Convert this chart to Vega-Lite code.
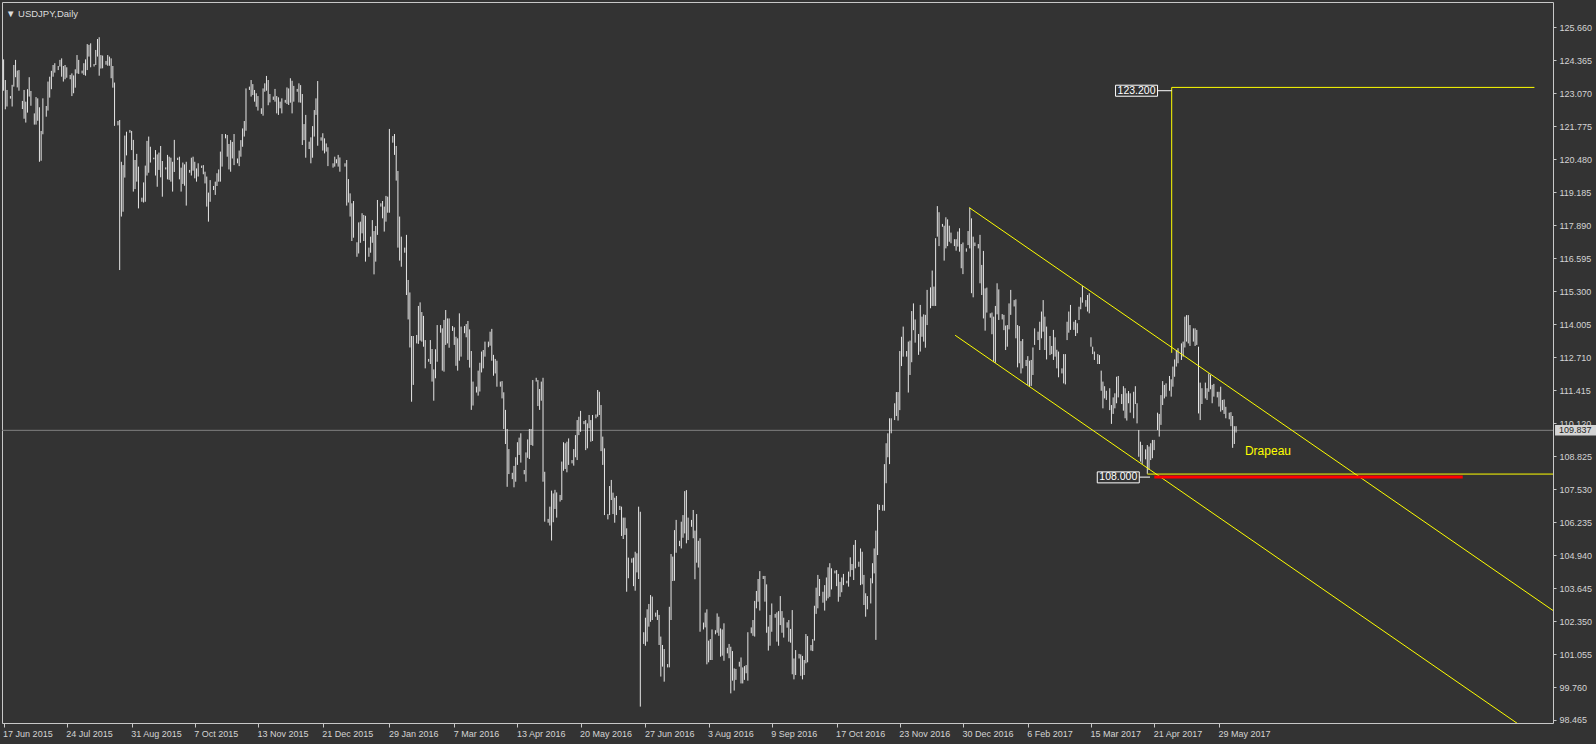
{
"width":1551,"height":721,"autosize":"none",
"padding":{"left":2,"top":2,"right":43,"bottom":21},
"background":"#333333",
"config":{"view":{"stroke":"#c8c8c8","strokeWidth":1},"font":"Liberation Sans"},
"title":{"text":"▼ USDJPY,Daily","anchor":"start","frame":"group","offset":-14,"baseline":"alphabetic","dx":4,"dy":10,"font":"Liberation Sans","fontSize":9.5,"fontWeight":"normal","color":"#dcdcdc"},
"datasets":{
"bars":[
{"d":"2015-06-17","h":124.40,"l":123.17},{"d":"2015-06-18","h":123.59,"l":122.44},{"d":"2015-06-19","h":123.20,"l":122.55},
{"d":"2015-06-21","h":122.96,"l":122.86},{"d":"2015-06-22","h":123.40,"l":122.55},{"d":"2015-06-23","h":124.18,"l":123.33},{"d":"2015-06-24","h":124.38,"l":123.70},{"d":"2015-06-25","h":123.96,"l":123.30},{"d":"2015-06-26","h":123.98,"l":123.17},
{"d":"2015-06-28","h":122.77,"l":122.45},{"d":"2015-06-29","h":123.20,"l":122.07},{"d":"2015-06-30","h":122.74,"l":121.92},{"d":"2015-07-01","h":123.23,"l":122.31},{"d":"2015-07-02","h":123.70,"l":122.94},{"d":"2015-07-03","h":123.16,"l":122.58},
{"d":"2015-07-05","h":122.28,"l":121.84},{"d":"2015-07-06","h":122.92,"l":121.84},{"d":"2015-07-07","h":122.87,"l":121.99},{"d":"2015-07-08","h":122.52,"l":120.38},{"d":"2015-07-09","h":121.59,"l":120.42},{"d":"2015-07-10","h":122.87,"l":121.46},
{"d":"2015-07-12","h":122.57,"l":122.15},{"d":"2015-07-13","h":123.53,"l":122.39},{"d":"2015-07-14","h":123.72,"l":122.90},{"d":"2015-07-15","h":123.95,"l":123.23},{"d":"2015-07-16","h":124.18,"l":123.72},{"d":"2015-07-17","h":124.25,"l":123.88},
{"d":"2015-07-19","h":124.14,"l":123.98},{"d":"2015-07-20","h":124.38,"l":124.12},{"d":"2015-07-21","h":124.44,"l":123.72},{"d":"2015-07-22","h":124.14,"l":123.53},{"d":"2015-07-23","h":124.18,"l":123.62},{"d":"2015-07-24","h":124.09,"l":123.68},
{"d":"2015-07-26","h":123.79,"l":123.62},{"d":"2015-07-27","h":123.85,"l":122.96},{"d":"2015-07-28","h":123.77,"l":123.07},{"d":"2015-07-29","h":124.01,"l":123.29},{"d":"2015-07-30","h":124.57,"l":123.85},{"d":"2015-07-31","h":124.38,"l":123.83},
{"d":"2015-08-02","h":123.96,"l":123.85},{"d":"2015-08-03","h":124.25,"l":123.79},{"d":"2015-08-04","h":124.40,"l":123.76},{"d":"2015-08-05","h":125.00,"l":123.98},{"d":"2015-08-06","h":124.97,"l":124.51},{"d":"2015-08-07","h":125.03,"l":124.09},
{"d":"2015-08-09","h":124.22,"l":124.12},{"d":"2015-08-10","h":124.77,"l":124.18},{"d":"2015-08-11","h":125.20,"l":124.51},{"d":"2015-08-12","h":125.27,"l":123.76},{"d":"2015-08-13","h":124.57,"l":124.04},{"d":"2015-08-14","h":124.55,"l":124.05},
{"d":"2015-08-16","h":124.34,"l":124.19},{"d":"2015-08-17","h":124.57,"l":124.15},{"d":"2015-08-18","h":124.51,"l":124.15},{"d":"2015-08-19","h":124.44,"l":123.66},{"d":"2015-08-20","h":124.14,"l":123.29},{"d":"2015-08-21","h":123.49,"l":121.79},
{"d":"2015-08-23","h":121.98,"l":121.81},{"d":"2015-08-24","h":122.02,"l":116.13},{"d":"2015-08-25","h":120.38,"l":118.23},{"d":"2015-08-26","h":120.25,"l":118.42},{"d":"2015-08-27","h":121.41,"l":119.76},{"d":"2015-08-28","h":121.56,"l":120.63},
{"d":"2015-08-30","h":121.63,"l":121.52},{"d":"2015-08-31","h":121.59,"l":120.84},{"d":"2015-09-01","h":121.24,"l":119.21},{"d":"2015-09-02","h":120.45,"l":119.31},{"d":"2015-09-03","h":120.69,"l":119.60},{"d":"2015-09-04","h":120.19,"l":118.55},
{"d":"2015-09-06","h":118.97,"l":118.81},{"d":"2015-09-07","h":119.57,"l":118.78},{"d":"2015-09-08","h":120.23,"l":118.81},{"d":"2015-09-09","h":121.20,"l":119.84},{"d":"2015-09-10","h":121.37,"l":119.95},{"d":"2015-09-11","h":120.97,"l":120.35},
{"d":"2015-09-13","h":120.54,"l":120.48},{"d":"2015-09-14","h":120.84,"l":119.84},{"d":"2015-09-15","h":120.67,"l":119.40},{"d":"2015-09-16","h":120.74,"l":120.06},{"d":"2015-09-17","h":121.00,"l":119.77},{"d":"2015-09-18","h":120.41,"l":119.01},
{"d":"2015-09-20","h":120.16,"l":120.08},{"d":"2015-09-21","h":120.65,"l":119.69},{"d":"2015-09-22","h":120.58,"l":119.67},{"d":"2015-09-23","h":120.54,"l":119.60},{"d":"2015-09-24","h":120.38,"l":119.21},{"d":"2015-09-25","h":121.24,"l":119.98},
{"d":"2015-09-27","h":120.54,"l":120.45},{"d":"2015-09-28","h":120.58,"l":119.69},{"d":"2015-09-29","h":120.15,"l":119.21},{"d":"2015-09-30","h":120.35,"l":119.51},{"d":"2015-10-01","h":120.28,"l":119.44},{"d":"2015-10-02","h":120.38,"l":118.66},
{"d":"2015-10-04","h":120.06,"l":119.95},{"d":"2015-10-05","h":120.54,"l":119.84},{"d":"2015-10-06","h":120.58,"l":120.03},{"d":"2015-10-07","h":120.38,"l":119.73},{"d":"2015-10-08","h":120.12,"l":119.60},{"d":"2015-10-09","h":120.32,"l":119.80},
{"d":"2015-10-11","h":120.23,"l":120.14},{"d":"2015-10-12","h":120.25,"l":119.89},{"d":"2015-10-13","h":119.99,"l":119.53},{"d":"2015-10-14","h":119.80,"l":118.62},{"d":"2015-10-15","h":119.17,"l":118.03},{"d":"2015-10-16","h":119.66,"l":118.81},
{"d":"2015-10-18","h":119.43,"l":119.27},{"d":"2015-10-19","h":119.60,"l":119.08},{"d":"2015-10-20","h":119.93,"l":119.43},{"d":"2015-10-21","h":120.08,"l":119.60},{"d":"2015-10-22","h":120.78,"l":119.60},{"d":"2015-10-23","h":121.47,"l":120.19},
{"d":"2015-10-25","h":121.47,"l":121.30},{"d":"2015-10-26","h":121.43,"l":120.58},{"d":"2015-10-27","h":121.08,"l":120.08},{"d":"2015-10-28","h":121.23,"l":119.99},{"d":"2015-10-29","h":121.16,"l":120.51},{"d":"2015-10-30","h":121.47,"l":120.25},
{"d":"2015-11-01","h":120.51,"l":120.32},{"d":"2015-11-02","h":120.82,"l":120.21},{"d":"2015-11-03","h":121.23,"l":120.58},{"d":"2015-11-04","h":121.69,"l":120.97},{"d":"2015-11-05","h":121.98,"l":121.37},{"d":"2015-11-06","h":123.26,"l":121.60},
{"d":"2015-11-08","h":123.33,"l":123.20},{"d":"2015-11-09","h":123.59,"l":122.94},{"d":"2015-11-10","h":123.43,"l":123.00},{"d":"2015-11-11","h":123.20,"l":122.74},{"d":"2015-11-12","h":123.07,"l":122.54},{"d":"2015-11-13","h":122.96,"l":122.39},
{"d":"2015-11-15","h":122.48,"l":122.26},{"d":"2015-11-16","h":123.26,"l":122.19},{"d":"2015-11-17","h":123.46,"l":123.13},{"d":"2015-11-18","h":123.75,"l":123.17},{"d":"2015-11-19","h":123.59,"l":122.60},{"d":"2015-11-20","h":123.04,"l":122.71},
{"d":"2015-11-22","h":122.94,"l":122.81},{"d":"2015-11-23","h":123.24,"l":122.74},{"d":"2015-11-24","h":122.96,"l":122.28},{"d":"2015-11-25","h":122.91,"l":122.22},{"d":"2015-11-26","h":122.74,"l":122.48},{"d":"2015-11-27","h":122.87,"l":122.28},
{"d":"2015-11-29","h":122.81,"l":122.70},{"d":"2015-11-30","h":123.30,"l":122.65},{"d":"2015-12-01","h":123.26,"l":122.61},{"d":"2015-12-02","h":123.66,"l":122.70},{"d":"2015-12-03","h":123.56,"l":122.28},{"d":"2015-12-04","h":123.36,"l":122.74},
{"d":"2015-12-06","h":123.24,"l":123.13},{"d":"2015-12-07","h":123.46,"l":122.71},{"d":"2015-12-08","h":123.39,"l":122.70},{"d":"2015-12-09","h":123.04,"l":121.04},{"d":"2015-12-10","h":121.86,"l":121.23},{"d":"2015-12-11","h":122.22,"l":120.54},
{"d":"2015-12-13","h":121.17,"l":120.88},{"d":"2015-12-14","h":121.34,"l":120.32},{"d":"2015-12-15","h":121.78,"l":120.54},{"d":"2015-12-16","h":122.41,"l":121.37},{"d":"2015-12-17","h":122.87,"l":122.22},{"d":"2015-12-18","h":123.55,"l":121.01},
{"d":"2015-12-20","h":121.34,"l":121.21},{"d":"2015-12-21","h":121.50,"l":120.82},{"d":"2015-12-22","h":121.30,"l":120.71},{"d":"2015-12-23","h":121.10,"l":120.78},{"d":"2015-12-24","h":120.95,"l":120.21},
{"d":"2015-12-27","h":120.32,"l":120.15},{"d":"2015-12-28","h":120.58,"l":120.19},{"d":"2015-12-29","h":120.48,"l":120.32},{"d":"2015-12-30","h":120.65,"l":120.19},{"d":"2015-12-31","h":120.55,"l":119.99},
{"d":"2016-01-03","h":120.32,"l":120.19},{"d":"2016-01-04","h":120.45,"l":118.66},{"d":"2016-01-05","h":119.70,"l":118.78},{"d":"2016-01-06","h":119.14,"l":118.23},{"d":"2016-01-07","h":118.75,"l":117.27},{"d":"2016-01-08","h":118.84,"l":117.40},
{"d":"2016-01-10","h":117.22,"l":116.65},{"d":"2016-01-11","h":118.00,"l":116.78},{"d":"2016-01-12","h":118.03,"l":117.20},{"d":"2016-01-13","h":118.36,"l":117.57},{"d":"2016-01-14","h":118.29,"l":117.27},{"d":"2016-01-15","h":118.26,"l":116.46},
{"d":"2016-01-17","h":117.01,"l":116.65},{"d":"2016-01-18","h":117.44,"l":116.81},{"d":"2016-01-19","h":118.09,"l":117.20},{"d":"2016-01-20","h":117.66,"l":115.96},{"d":"2016-01-21","h":117.86,"l":116.46},{"d":"2016-01-22","h":118.88,"l":117.51},
{"d":"2016-01-24","h":118.75,"l":118.62},{"d":"2016-01-25","h":118.84,"l":118.16},{"d":"2016-01-26","h":118.62,"l":117.64},{"d":"2016-01-27","h":119.04,"l":118.03},{"d":"2016-01-28","h":119.01,"l":118.38},{"d":"2016-01-29","h":121.67,"l":118.38},
{"d":"2016-01-31","h":121.39,"l":121.13},{"d":"2016-02-01","h":121.47,"l":120.65},{"d":"2016-02-02","h":121.00,"l":119.64},{"d":"2016-02-03","h":120.02,"l":117.01},{"d":"2016-02-04","h":118.23,"l":116.50},{"d":"2016-02-05","h":117.44,"l":116.26},
{"d":"2016-02-07","h":117.01,"l":116.81},{"d":"2016-02-08","h":117.51,"l":115.15},{"d":"2016-02-09","h":115.74,"l":114.19},{"d":"2016-02-10","h":115.25,"l":113.09},{"d":"2016-02-11","h":113.54,"l":110.96},{"d":"2016-02-12","h":113.54,"l":111.62},
{"d":"2016-02-14","h":113.58,"l":113.25},{"d":"2016-02-15","h":114.72,"l":113.23},{"d":"2016-02-16","h":114.86,"l":113.36},{"d":"2016-02-17","h":114.48,"l":113.32},{"d":"2016-02-18","h":114.33,"l":113.12},{"d":"2016-02-19","h":113.38,"l":112.27},
{"d":"2016-02-21","h":112.64,"l":112.53},{"d":"2016-02-22","h":113.38,"l":112.44},{"d":"2016-02-23","h":113.03,"l":111.75},{"d":"2016-02-24","h":112.23,"l":111.00},{"d":"2016-02-25","h":113.02,"l":111.88},{"d":"2016-02-26","h":113.97,"l":112.53},
{"d":"2016-02-28","h":113.97,"l":113.67},{"d":"2016-02-29","h":113.84,"l":112.18},{"d":"2016-03-01","h":114.17,"l":112.14},{"d":"2016-03-02","h":114.56,"l":113.19},{"d":"2016-03-03","h":114.23,"l":113.25},{"d":"2016-03-04","h":114.23,"l":113.08},
{"d":"2016-03-06","h":113.93,"l":113.74},{"d":"2016-03-07","h":113.88,"l":113.19},{"d":"2016-03-08","h":113.51,"l":112.37},{"d":"2016-03-09","h":113.45,"l":112.18},{"d":"2016-03-10","h":114.43,"l":112.57},{"d":"2016-03-11","h":113.91,"l":112.73},
{"d":"2016-03-13","h":113.93,"l":113.65},{"d":"2016-03-14","h":114.01,"l":113.49},{"d":"2016-03-15","h":114.13,"l":112.60},{"d":"2016-03-16","h":113.80,"l":112.30},{"d":"2016-03-17","h":112.95,"l":110.64},{"d":"2016-03-18","h":111.75,"l":110.81},
{"d":"2016-03-20","h":111.55,"l":111.32},{"d":"2016-03-21","h":112.18,"l":111.20},{"d":"2016-03-22","h":112.49,"l":111.36},{"d":"2016-03-23","h":112.93,"l":112.11},{"d":"2016-03-24","h":112.99,"l":112.27},{"d":"2016-03-25","h":113.32,"l":112.73},
{"d":"2016-03-27","h":113.32,"l":113.10},{"d":"2016-03-28","h":113.71,"l":113.16},{"d":"2016-03-29","h":113.82,"l":112.57},{"d":"2016-03-30","h":112.80,"l":111.98},{"d":"2016-03-31","h":112.64,"l":112.07},{"d":"2016-04-01","h":112.57,"l":111.55},
{"d":"2016-04-03","h":111.75,"l":111.55},{"d":"2016-04-04","h":111.77,"l":111.09},{"d":"2016-04-05","h":111.33,"l":109.89},{"d":"2016-04-06","h":110.64,"l":109.30},{"d":"2016-04-07","h":109.89,"l":107.62},{"d":"2016-04-08","h":109.10,"l":108.12},
{"d":"2016-04-10","h":108.17,"l":107.92},{"d":"2016-04-11","h":108.44,"l":107.60},{"d":"2016-04-12","h":108.78,"l":107.82},{"d":"2016-04-13","h":109.37,"l":108.48},{"d":"2016-04-14","h":109.55,"l":108.87},{"d":"2016-04-15","h":109.72,"l":108.57},
{"d":"2016-04-17","h":108.28,"l":108.11},{"d":"2016-04-18","h":108.97,"l":107.82},{"d":"2016-04-19","h":109.48,"l":108.76},{"d":"2016-04-20","h":109.89,"l":108.71},{"d":"2016-04-21","h":109.89,"l":109.26},{"d":"2016-04-22","h":111.81,"l":109.23},
{"d":"2016-04-24","h":111.90,"l":111.75},{"d":"2016-04-25","h":111.81,"l":110.79},{"d":"2016-04-26","h":111.46,"l":110.64},{"d":"2016-04-27","h":111.75,"l":111.00},{"d":"2016-04-28","h":111.90,"l":107.82},{"d":"2016-04-29","h":108.21,"l":106.25},
{"d":"2016-05-01","h":106.36,"l":106.21},{"d":"2016-05-02","h":106.84,"l":106.10},{"d":"2016-05-03","h":107.47,"l":105.51},{"d":"2016-05-04","h":107.36,"l":106.23},{"d":"2016-05-05","h":107.50,"l":106.75},{"d":"2016-05-06","h":107.40,"l":106.41},
{"d":"2016-05-08","h":107.30,"l":107.04},{"d":"2016-05-09","h":108.61,"l":107.10},{"d":"2016-05-10","h":109.37,"l":108.25},{"d":"2016-05-11","h":109.33,"l":108.32},{"d":"2016-05-12","h":109.39,"l":108.19},{"d":"2016-05-13","h":109.52,"l":108.48},
{"d":"2016-05-15","h":108.67,"l":108.54},{"d":"2016-05-16","h":109.10,"l":108.45},{"d":"2016-05-17","h":109.65,"l":108.78},{"d":"2016-05-18","h":110.24,"l":108.67},{"d":"2016-05-19","h":110.37,"l":109.65},{"d":"2016-05-20","h":110.60,"l":109.78},
{"d":"2016-05-22","h":110.20,"l":110.08},{"d":"2016-05-23","h":110.24,"l":109.06},{"d":"2016-05-24","h":110.11,"l":109.13},{"d":"2016-05-25","h":110.44,"l":109.92},{"d":"2016-05-26","h":110.24,"l":109.39},{"d":"2016-05-27","h":110.44,"l":109.42},
{"d":"2016-05-29","h":110.46,"l":110.31},{"d":"2016-05-30","h":111.42,"l":110.37},{"d":"2016-05-31","h":111.35,"l":110.44},{"d":"2016-06-01","h":110.83,"l":109.02},{"d":"2016-06-02","h":109.59,"l":108.48},{"d":"2016-06-03","h":109.13,"l":106.51},
{"d":"2016-06-05","h":106.55,"l":106.34},{"d":"2016-06-06","h":107.65,"l":106.51},{"d":"2016-06-07","h":107.89,"l":107.10},{"d":"2016-06-08","h":107.39,"l":106.55},{"d":"2016-06-09","h":107.19,"l":106.21},{"d":"2016-06-10","h":107.26,"l":106.51},
{"d":"2016-06-12","h":106.87,"l":106.71},{"d":"2016-06-13","h":106.84,"l":105.69},{"d":"2016-06-14","h":106.41,"l":105.57},{"d":"2016-06-15","h":106.41,"l":105.73},{"d":"2016-06-16","h":105.99,"l":103.50},{"d":"2016-06-17","h":104.84,"l":104.03},
{"d":"2016-06-19","h":104.81,"l":104.64},{"d":"2016-06-20","h":104.84,"l":103.72},{"d":"2016-06-21","h":105.07,"l":103.54},{"d":"2016-06-22","h":105.01,"l":104.26},{"d":"2016-06-23","h":106.84,"l":104.00},{"d":"2016-06-24","h":106.64,"l":98.99},
{"d":"2016-06-26","h":101.91,"l":101.45},{"d":"2016-06-27","h":102.48,"l":101.38},{"d":"2016-06-28","h":102.81,"l":101.54},{"d":"2016-06-29","h":103.02,"l":102.13},{"d":"2016-06-30","h":103.37,"l":102.32},{"d":"2016-07-01","h":103.31,"l":102.39},
{"d":"2016-07-03","h":102.68,"l":102.52},{"d":"2016-07-04","h":102.78,"l":102.39},{"d":"2016-07-05","h":102.59,"l":101.41},{"d":"2016-07-06","h":101.74,"l":100.17},{"d":"2016-07-07","h":101.41,"l":100.56},{"d":"2016-07-08","h":101.25,"l":99.97},
{"d":"2016-07-10","h":100.66,"l":100.53},{"d":"2016-07-11","h":102.91,"l":100.53},{"d":"2016-07-12","h":104.98,"l":102.39},{"d":"2016-07-13","h":104.88,"l":103.92},{"d":"2016-07-14","h":105.92,"l":103.93},{"d":"2016-07-15","h":106.32,"l":105.03},
{"d":"2016-07-17","h":105.50,"l":105.29},{"d":"2016-07-18","h":106.25,"l":105.20},{"d":"2016-07-19","h":106.51,"l":105.62},{"d":"2016-07-20","h":107.45,"l":105.79},{"d":"2016-07-21","h":107.49,"l":105.40},{"d":"2016-07-22","h":106.41,"l":105.53},
{"d":"2016-07-24","h":106.32,"l":106.05},{"d":"2016-07-25","h":106.71,"l":105.60},{"d":"2016-07-26","h":105.90,"l":103.99},{"d":"2016-07-27","h":106.55,"l":104.64},{"d":"2016-07-28","h":105.50,"l":104.45},{"d":"2016-07-29","h":105.60,"l":101.93},
{"d":"2016-07-31","h":102.29,"l":102.02},{"d":"2016-08-01","h":102.68,"l":102.10},{"d":"2016-08-02","h":102.81,"l":100.65},{"d":"2016-08-03","h":101.58,"l":100.73},{"d":"2016-08-04","h":101.64,"l":100.82},{"d":"2016-08-05","h":102.02,"l":100.82},
{"d":"2016-08-07","h":101.99,"l":101.83},{"d":"2016-08-08","h":102.65,"l":101.89},{"d":"2016-08-09","h":102.52,"l":101.77},{"d":"2016-08-10","h":102.06,"l":100.95},{"d":"2016-08-11","h":102.02,"l":100.99},{"d":"2016-08-12","h":102.26,"l":100.79},
{"d":"2016-08-14","h":101.30,"l":101.08},{"d":"2016-08-15","h":101.45,"l":100.89},{"d":"2016-08-16","h":101.34,"l":99.51},{"d":"2016-08-17","h":101.17,"l":100.01},{"d":"2016-08-18","h":100.49,"l":99.62},{"d":"2016-08-19","h":100.47,"l":100.04},
{"d":"2016-08-21","h":100.75,"l":100.56},{"d":"2016-08-22","h":100.92,"l":99.90},{"d":"2016-08-23","h":100.53,"l":99.90},{"d":"2016-08-24","h":100.58,"l":100.04},{"d":"2016-08-25","h":100.62,"l":100.30},{"d":"2016-08-26","h":101.91,"l":100.01},
{"d":"2016-08-28","h":102.10,"l":101.87},{"d":"2016-08-29","h":102.39,"l":101.77},{"d":"2016-08-30","h":103.14,"l":101.74},{"d":"2016-08-31","h":103.53,"l":102.85},{"d":"2016-09-01","h":104.00,"l":103.11},{"d":"2016-09-02","h":104.31,"l":102.76},
{"d":"2016-09-04","h":104.12,"l":104.00},{"d":"2016-09-05","h":104.12,"l":103.11},{"d":"2016-09-06","h":103.79,"l":101.89},{"d":"2016-09-07","h":102.13,"l":101.19},{"d":"2016-09-08","h":102.59,"l":101.38},{"d":"2016-09-09","h":103.04,"l":101.93},
{"d":"2016-09-11","h":102.63,"l":102.48},{"d":"2016-09-12","h":102.69,"l":101.54},{"d":"2016-09-13","h":102.74,"l":101.38},{"d":"2016-09-14","h":103.33,"l":102.19},{"d":"2016-09-15","h":102.74,"l":101.89},{"d":"2016-09-16","h":102.48,"l":101.70},
{"d":"2016-09-18","h":102.30,"l":102.09},{"d":"2016-09-19","h":102.39,"l":101.54},{"d":"2016-09-20","h":102.04,"l":101.50},{"d":"2016-09-21","h":102.78,"l":100.26},{"d":"2016-09-22","h":100.88,"l":100.06},{"d":"2016-09-23","h":101.21,"l":100.23},
{"d":"2016-09-25","h":101.06,"l":100.88},{"d":"2016-09-26","h":101.04,"l":100.20},{"d":"2016-09-27","h":100.98,"l":100.06},{"d":"2016-09-28","h":100.82,"l":100.23},{"d":"2016-09-29","h":101.84,"l":100.69},{"d":"2016-09-30","h":101.76,"l":100.73},
{"d":"2016-10-02","h":101.41,"l":101.19},{"d":"2016-10-03","h":101.64,"l":101.17},{"d":"2016-10-04","h":102.95,"l":101.58},{"d":"2016-10-05","h":103.66,"l":102.63},{"d":"2016-10-06","h":104.16,"l":102.85},{"d":"2016-10-07","h":104.00,"l":103.33},
{"d":"2016-10-09","h":103.50,"l":103.07},{"d":"2016-10-10","h":103.76,"l":102.76},{"d":"2016-10-11","h":104.06,"l":103.15},{"d":"2016-10-12","h":104.46,"l":103.24},{"d":"2016-10-13","h":104.62,"l":103.30},{"d":"2016-10-14","h":104.42,"l":103.59},
{"d":"2016-10-16","h":104.33,"l":104.22},{"d":"2016-10-17","h":104.35,"l":103.72},{"d":"2016-10-18","h":104.20,"l":103.11},{"d":"2016-10-19","h":103.89,"l":103.30},{"d":"2016-10-20","h":104.06,"l":103.48},{"d":"2016-10-21","h":104.20,"l":103.76},
{"d":"2016-10-23","h":103.93,"l":103.83},{"d":"2016-10-24","h":104.29,"l":103.70},{"d":"2016-10-25","h":104.85,"l":104.09},{"d":"2016-10-26","h":104.59,"l":104.35},{"d":"2016-10-27","h":105.34,"l":103.96},{"d":"2016-10-28","h":105.53,"l":104.42},
{"d":"2016-10-30","h":104.68,"l":104.48},{"d":"2016-10-31","h":105.20,"l":103.76},{"d":"2016-11-01","h":105.07,"l":103.79},{"d":"2016-11-02","h":104.16,"l":102.98},{"d":"2016-11-03","h":103.44,"l":102.52},{"d":"2016-11-04","h":103.33,"l":102.81},
{"d":"2016-11-06","h":104.03,"l":103.04},{"d":"2016-11-07","h":104.62,"l":103.83},{"d":"2016-11-08","h":105.20,"l":104.22},{"d":"2016-11-09","h":105.90,"l":101.61},{"d":"2016-11-10","h":106.94,"l":104.94},{"d":"2016-11-11","h":106.91,"l":106.71},
{"d":"2016-11-13","h":106.91,"l":106.68},{"d":"2016-11-14","h":108.51,"l":106.68},{"d":"2016-11-15","h":109.33,"l":107.76},{"d":"2016-11-16","h":109.72,"l":108.78},{"d":"2016-11-17","h":110.31,"l":108.51},{"d":"2016-11-18","h":110.31,"l":109.72},
{"d":"2016-11-20","h":110.90,"l":110.24},{"d":"2016-11-21","h":111.34,"l":110.40},{"d":"2016-11-22","h":111.34,"l":110.22},{"d":"2016-11-23","h":112.95,"l":110.63},{"d":"2016-11-24","h":113.51,"l":112.36},{"d":"2016-11-25","h":113.91,"l":112.73},
{"d":"2016-11-27","h":112.95,"l":112.73},{"d":"2016-11-28","h":113.32,"l":111.32},{"d":"2016-11-29","h":113.36,"l":112.01},{"d":"2016-11-30","h":114.52,"l":112.51},{"d":"2016-12-01","h":114.82,"l":113.77},{"d":"2016-12-02","h":114.19,"l":113.28},
{"d":"2016-12-04","h":113.62,"l":112.80},{"d":"2016-12-05","h":114.76,"l":112.93},{"d":"2016-12-06","h":114.30,"l":113.51},{"d":"2016-12-07","h":114.39,"l":113.32},{"d":"2016-12-08","h":114.37,"l":113.08},{"d":"2016-12-09","h":115.35,"l":113.97},
{"d":"2016-12-11","h":115.45,"l":114.63},{"d":"2016-12-12","h":116.11,"l":114.72},{"d":"2016-12-13","h":115.48,"l":114.72},{"d":"2016-12-14","h":117.38,"l":114.72},{"d":"2016-12-15","h":118.64,"l":117.44},{"d":"2016-12-16","h":118.40,"l":117.07},
{"d":"2016-12-18","h":117.94,"l":117.83},{"d":"2016-12-19","h":117.87,"l":116.50},{"d":"2016-12-20","h":118.20,"l":116.98},{"d":"2016-12-21","h":118.12,"l":117.07},{"d":"2016-12-22","h":117.87,"l":117.24},{"d":"2016-12-23","h":117.60,"l":117.18},
{"d":"2016-12-25","h":117.34,"l":117.07},{"d":"2016-12-26","h":117.34,"l":116.89},{"d":"2016-12-27","h":117.64,"l":117.05},{"d":"2016-12-28","h":117.77,"l":116.85},{"d":"2016-12-29","h":117.15,"l":116.20},{"d":"2016-12-30","h":117.21,"l":115.97},
{"d":"2017-01-01","h":116.98,"l":116.85},{"d":"2017-01-02","h":117.66,"l":117.11},{"d":"2017-01-03","h":118.58,"l":116.98},{"d":"2017-01-04","h":118.16,"l":115.22},{"d":"2017-01-05","h":117.44,"l":115.06},{"d":"2017-01-06","h":117.21,"l":117.07},
{"d":"2017-01-08","h":117.15,"l":116.98},{"d":"2017-01-09","h":117.51,"l":115.61},{"d":"2017-01-10","h":116.33,"l":115.15},{"d":"2017-01-11","h":116.88,"l":114.23},{"d":"2017-01-12","h":115.41,"l":113.75},{"d":"2017-01-13","h":115.44,"l":114.46},
{"d":"2017-01-15","h":114.43,"l":114.26},{"d":"2017-01-16","h":114.46,"l":113.61},{"d":"2017-01-17","h":114.30,"l":112.53},{"d":"2017-01-18","h":114.72,"l":112.49},{"d":"2017-01-19","h":115.61,"l":114.39},{"d":"2017-01-20","h":115.37,"l":114.17},
{"d":"2017-01-22","h":114.40,"l":114.19},{"d":"2017-01-23","h":114.37,"l":113.77},{"d":"2017-01-24","h":113.95,"l":112.99},{"d":"2017-01-25","h":113.97,"l":113.12},{"d":"2017-01-26","h":114.82,"l":113.80},{"d":"2017-01-27","h":115.35,"l":114.37},
{"d":"2017-01-29","h":114.95,"l":114.70},{"d":"2017-01-30","h":114.98,"l":113.45},{"d":"2017-01-31","h":113.97,"l":112.31},{"d":"2017-02-01","h":113.93,"l":112.47},{"d":"2017-02-02","h":113.34,"l":112.07},{"d":"2017-02-03","h":113.42,"l":112.27},
{"d":"2017-02-05","h":112.60,"l":112.36},{"d":"2017-02-06","h":112.75,"l":111.62},{"d":"2017-02-07","h":112.57,"l":111.55},{"d":"2017-02-08","h":112.60,"l":111.58},{"d":"2017-02-09","h":113.09,"l":112.01},{"d":"2017-02-10","h":113.84,"l":113.19},
{"d":"2017-02-12","h":113.71,"l":113.38},{"d":"2017-02-13","h":114.10,"l":112.99},{"d":"2017-02-14","h":114.50,"l":113.45},{"d":"2017-02-15","h":114.95,"l":113.71},{"d":"2017-02-16","h":114.30,"l":112.99},{"d":"2017-02-17","h":113.91,"l":112.62},
{"d":"2017-02-19","h":113.54,"l":112.79},{"d":"2017-02-20","h":113.15,"l":112.83},{"d":"2017-02-21","h":113.78,"l":112.60},{"d":"2017-02-22","h":113.49,"l":112.73},{"d":"2017-02-23","h":113.00,"l":112.27},{"d":"2017-02-24","h":112.93,"l":111.92},
{"d":"2017-02-26","h":112.27,"l":112.07},{"d":"2017-02-27","h":112.83,"l":111.68},{"d":"2017-02-28","h":112.83,"l":111.64},{"d":"2017-03-01","h":114.10,"l":113.38},{"d":"2017-03-02","h":114.50,"l":113.67},{"d":"2017-03-03","h":114.76,"l":113.78},
{"d":"2017-03-05","h":114.10,"l":113.78},{"d":"2017-03-06","h":114.17,"l":113.54},{"d":"2017-03-07","h":114.04,"l":113.65},{"d":"2017-03-08","h":114.69,"l":114.17},{"d":"2017-03-09","h":115.06,"l":114.59},{"d":"2017-03-10","h":115.50,"l":114.85},
{"d":"2017-03-12","h":114.95,"l":114.69},{"d":"2017-03-13","h":115.15,"l":114.50},{"d":"2017-03-14","h":115.22,"l":114.43},{"d":"2017-03-15","h":113.49,"l":113.12},{"d":"2017-03-16","h":113.12,"l":112.83},{"d":"2017-03-17","h":112.93,"l":112.60},
{"d":"2017-03-19","h":112.83,"l":112.44},{"d":"2017-03-20","h":112.79,"l":112.44},{"d":"2017-03-21","h":112.18,"l":111.39},{"d":"2017-03-22","h":111.75,"l":110.70},{"d":"2017-03-23","h":111.57,"l":111.09},{"d":"2017-03-24","h":111.39,"l":111.03},
{"d":"2017-03-26","h":111.49,"l":110.63},{"d":"2017-03-27","h":110.83,"l":110.09},{"d":"2017-03-28","h":111.13,"l":110.48},{"d":"2017-03-29","h":111.29,"l":110.70},{"d":"2017-03-30","h":111.94,"l":110.90},{"d":"2017-03-31","h":111.97,"l":111.13},
{"d":"2017-04-02","h":111.26,"l":110.87},{"d":"2017-04-03","h":111.57,"l":110.61},{"d":"2017-04-04","h":111.49,"l":110.31},{"d":"2017-04-05","h":111.29,"l":110.22},{"d":"2017-04-06","h":111.38,"l":110.90},{"d":"2017-04-07","h":111.29,"l":110.53},
{"d":"2017-04-09","h":111.35,"l":110.31},{"d":"2017-04-10","h":111.57,"l":110.87},{"d":"2017-04-11","h":110.90,"l":110.11},{"d":"2017-04-12","h":109.85,"l":108.80},{"d":"2017-04-13","h":109.39,"l":108.61},{"d":"2017-04-14","h":109.26,"l":108.52},
{"d":"2017-04-16","h":109.09,"l":108.70},{"d":"2017-04-17","h":109.26,"l":108.13},{"d":"2017-04-18","h":109.20,"l":108.28},{"d":"2017-04-19","h":109.33,"l":108.67},{"d":"2017-04-20","h":109.46,"l":108.74},{"d":"2017-04-21","h":109.46,"l":109.06},
{"d":"2017-04-23","h":110.53,"l":109.85},{"d":"2017-04-24","h":110.48,"l":109.59},{"d":"2017-04-25","h":111.22,"l":110.05},{"d":"2017-04-26","h":111.77,"l":110.83},{"d":"2017-04-27","h":111.62,"l":111.09},{"d":"2017-04-28","h":111.68,"l":111.16},
{"d":"2017-04-30","h":111.97,"l":111.39},{"d":"2017-05-01","h":111.84,"l":111.16},{"d":"2017-05-02","h":112.34,"l":111.55},{"d":"2017-05-03","h":112.62,"l":111.94},{"d":"2017-05-04","h":112.99,"l":112.34},{"d":"2017-05-05","h":113.06,"l":112.47},
{"d":"2017-05-07","h":113.25,"l":112.60},{"d":"2017-05-08","h":113.32,"l":112.73},{"d":"2017-05-09","h":114.30,"l":113.09},{"d":"2017-05-10","h":114.36,"l":113.32},{"d":"2017-05-11","h":114.36,"l":113.25},{"d":"2017-05-12","h":113.97,"l":113.15},
{"d":"2017-05-14","h":113.84,"l":113.32},{"d":"2017-05-15","h":113.84,"l":113.15},{"d":"2017-05-16","h":113.78,"l":113.19},{"d":"2017-05-17","h":113.12,"l":110.50},{"d":"2017-05-18","h":111.71,"l":110.24},{"d":"2017-05-19","h":111.49,"l":110.87},
{"d":"2017-05-21","h":111.71,"l":111.09},{"d":"2017-05-22","h":111.49,"l":111.03},{"d":"2017-05-23","h":112.07,"l":111.35},{"d":"2017-05-24","h":112.01,"l":111.45},{"d":"2017-05-25","h":111.62,"l":110.90},{"d":"2017-05-26","h":111.66,"l":111.16},
{"d":"2017-05-28","h":111.35,"l":111.13},{"d":"2017-05-29","h":111.35,"l":110.77},{"d":"2017-05-30","h":111.55,"l":110.57},{"d":"2017-05-31","h":111.03,"l":110.63},{"d":"2017-06-01","h":111.05,"l":110.48},{"d":"2017-06-02","h":110.76,"l":110.31},
{"d":"2017-06-04","h":110.53,"l":110.27},{"d":"2017-06-05","h":110.55,"l":110.00},{"d":"2017-06-06","h":110.40,"l":109.15},{"d":"2017-06-07","h":110.00,"l":109.30},{"d":"2017-06-08","h":110.00,"l":109.75}
],
"lines":[
{"id":"upper","d":"2017-01-02T17:00:00Z","p":118.58},{"id":"upper","d":"2018-01-07T05:00:00Z","p":101.49},
{"id":"lower","d":"2016-12-25T10:00:00Z","p":113.57},{"id":"lower","d":"2018-01-07T05:00:00Z","p":96.09},
{"id":"vert","d":"2017-05-01T07:00:00Z","p":112.88},{"id":"vert","d":"2017-05-01T07:00:00Z","p":123.30},
{"id":"top","d":"2017-05-01T07:00:00Z","p":123.30},{"id":"top","d":"2017-11-29T19:00:00Z","p":123.30},
{"id":"low108","d":"2017-04-17T00:00:00Z","p":108.12},{"id":"low108","d":"2018-01-07T05:00:00Z","p":108.12},
{"id":"red","d":"2017-04-21T02:00:00Z","p":108.0},{"id":"red","d":"2017-10-18T19:00:00Z","p":108.0},
{"id":"lead108","d":"2017-04-12T08:00:00Z","p":108.0},{"id":"lead108","d":"2017-04-18T14:00:00Z","p":108.0},
{"id":"lead123","d":"2017-04-22T22:00:00Z","p":123.17},{"id":"lead123","d":"2017-05-01T07:00:00Z","p":123.17}
],
"labels":[{"d":"2017-03-31T00:00:00Z","p":107.99,"t":"108.000"},{"d":"2017-04-10T17:00:00Z","p":123.17,"t":"123.200"}],
"bid":[{"d":"2015-06-16T01:30:00Z","d2":"2017-12-10T16:00:00Z","p":109.837,"t":"109.837"}]
},
"encoding":{
"x":{"field":"d","type":"temporal","scale":{"type":"utc","domain":[{"year":2015,"month":6,"date":16,"hours":1,"minutes":30,"utc":true},{"year":2017,"month":12,"date":10,"hours":16,"utc":true}]},
"axis":{"title":null,"orient":"bottom","domain":false,"grid":false,"format":"%-d %b %Y","labelAlign":"left","labelBaseline":"top","labelFlush":false,"labelOverlap":false,"labelOffset":-1,"labelPadding":2,"tickSize":4,"tickColor":"#c8c8c8","labelColor":"#d4d4d4","labelFont":"Liberation Sans","labelFontSize":9,
"values":[{"year":2015,"month":6,"date":17,"utc":true},{"year":2015,"month":7,"date":24,"utc":true},{"year":2015,"month":8,"date":31,"utc":true},{"year":2015,"month":10,"date":7,"utc":true},{"year":2015,"month":11,"date":13,"utc":true},{"year":2015,"month":12,"date":21,"utc":true},{"year":2016,"month":1,"date":29,"utc":true},{"year":2016,"month":3,"date":7,"utc":true},{"year":2016,"month":4,"date":13,"utc":true},{"year":2016,"month":5,"date":20,"utc":true},{"year":2016,"month":6,"date":27,"utc":true},{"year":2016,"month":8,"date":3,"utc":true},{"year":2016,"month":9,"date":9,"utc":true},{"year":2016,"month":10,"date":17,"utc":true},{"year":2016,"month":11,"date":23,"utc":true},{"year":2016,"month":12,"date":30,"utc":true},{"year":2017,"month":2,"date":6,"utc":true},{"year":2017,"month":3,"date":15,"utc":true},{"year":2017,"month":4,"date":21,"utc":true},{"year":2017,"month":5,"date":29,"utc":true}]}},
"y":{"field":"p","type":"quantitative","scale":{"domain":[98.347,126.653],"zero":false,"nice":false},
"axis":{"title":null,"orient":"right","domain":false,"grid":false,"format":".3f","tickSize":3,"tickColor":"#c8c8c8","labelPadding":3,"labelColor":"#d4d4d4","labelFont":"Liberation Sans","labelFontSize":9,"labelOverlap":false,"labelFlush":false,
"values":[98.465,99.76,101.055,102.35,103.645,104.94,106.235,107.53,108.825,110.12,111.415,112.71,114.005,115.3,116.595,117.89,119.185,120.48,121.775,123.07,124.365,125.66]}}
},
"layer":[
{"data":{"name":"bid"},"mark":{"type":"rule","color":"#808080","strokeWidth":1},"encoding":{"x2":{"field":"d2"}}},
{"data":{"name":"bars"},"mark":{"type":"rule","color":"#e6e6e6","strokeWidth":1},"encoding":{"y":{"field":"h","type":"quantitative"},"y2":{"field":"l"}}},
{"data":{"name":"lines"},"transform":[{"filter":"indexof(['upper','lower','vert','top','low108'], datum.id) >= 0"}],"mark":{"type":"line","color":"#ffff00","strokeWidth":1,"clip":true},"encoding":{"detail":{"field":"id"}}},
{"data":{"name":"lines"},"transform":[{"filter":"datum.id == 'red'"}],"mark":{"type":"line","color":"#ff0000","strokeWidth":3,"clip":true},"encoding":{"detail":{"field":"id"}}},
{"data":{"name":"lines"},"transform":[{"filter":"indexof(['lead108','lead123'], datum.id) >= 0"}],"mark":{"type":"line","color":"#ffffff","strokeWidth":1},"encoding":{"detail":{"field":"id"}}},
{"data":{"name":"labels"},"mark":{"type":"point","shape":"M-1,-0.262H1V0.262H-1Z","size":1764,"filled":true,"fill":"#333333","stroke":"#ffffff","strokeWidth":1,"opacity":1}},
{"data":{"name":"labels"},"mark":{"type":"text","color":"#ffffff","font":"Liberation Sans","fontSize":10.5,"align":"center","baseline":"middle"},"encoding":{"text":{"field":"t"}}},
{"data":{"values":[{"d":"2017-06-13T05:00:00Z","p":109.03,"t":"Drapeau"}]},"mark":{"type":"text","color":"#ffff00","font":"Liberation Sans","fontSize":12,"align":"left","baseline":"middle"},"encoding":{"text":{"field":"t"}}},
{"data":{"name":"bid"},"mark":{"type":"point","shape":"M0.05,-0.128H1.05V0.128H0.05Z","size":6724,"filled":true,"fill":"#d4d4d4","strokeWidth":0,"opacity":1},"encoding":{"x":{"field":"d2","type":"temporal"}}},
{"data":{"name":"bid"},"mark":{"type":"text","color":"#1e1e1e","font":"Liberation Sans","fontSize":9,"align":"left","baseline":"middle","dx":6},"encoding":{"x":{"field":"d2","type":"temporal"},"text":{"field":"t"}}}
]
}
